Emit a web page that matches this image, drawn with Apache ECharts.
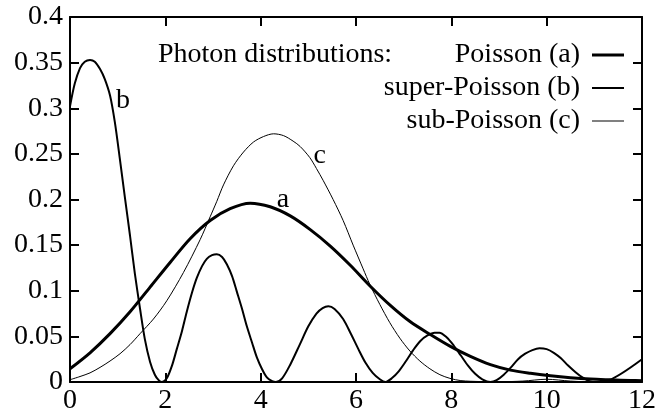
<!DOCTYPE html>
<html>
<head>
<meta charset="utf-8">
<script src="https://cdn.jsdelivr.net/npm/echarts@6/dist/echarts.min.js"></script>
<style>
html,body{margin:0;padding:0;background:#fff;}
#chart{width:659px;height:415px;}
</style>
</head>
<body>
<div id="chart"></div>
<script>
// Poisson (a)
var aX = [0, 0.42, 0.84, 1.26, 1.68, 2.10, 2.52, 2.94, 3.36, 3.78, 4.20, 4.62, 5.04, 5.46, 5.88, 6.30, 6.72, 7.14, 7.56, 7.98, 8.40, 8.82, 9.24, 9.66, 10.08, 10.50, 10.92, 11.34, 11.76, 12];
var aY = [0.0145, 0.032, 0.053, 0.077, 0.104, 0.131, 0.157, 0.177, 0.190, 0.196, 0.192, 0.182, 0.167, 0.149, 0.128, 0.105, 0.084, 0.066, 0.052, 0.039, 0.028, 0.019, 0.013, 0.0095, 0.0068, 0.0047, 0.0032, 0.0024, 0.0017, 0.0014];
// super-Poisson (b)
var bX = [0, 0.1, 0.21, 0.31, 0.42, 0.52, 0.63, 0.73, 0.84, 0.94, 1.05, 1.15, 1.26, 1.36, 1.47, 1.57, 1.68, 1.78, 1.86, 1.93,
          2.03, 2.14, 2.24, 2.35, 2.45, 2.56, 2.66, 2.77, 2.87, 2.98, 3.08, 3.19, 3.29, 3.4, 3.5, 3.61, 3.71, 3.82, 3.92, 4.03, 4.13, 4.24, 4.32,
          4.45, 4.62, 4.82, 5.0, 5.17, 5.3, 5.42, 5.55, 5.73, 5.9, 6.05, 6.2, 6.35, 6.5, 6.62,
          6.75, 6.9, 7.05, 7.2, 7.35, 7.5, 7.65, 7.75, 7.9, 8.05, 8.2, 8.35, 8.5, 8.65, 8.82,
          8.95, 9.1, 9.25, 9.4, 9.55, 9.7, 9.85, 10.0, 10.15, 10.3, 10.45, 10.6, 10.75, 10.9, 11.05, 11.26, 12];
var bY = [0.302, 0.327, 0.344, 0.351, 0.353, 0.351, 0.343, 0.332, 0.314, 0.285, 0.243, 0.203, 0.160, 0.119, 0.080, 0.047, 0.022, 0.008, 0.002, 0,
          0.004, 0.018, 0.036, 0.056, 0.077, 0.098, 0.114, 0.127, 0.135, 0.139, 0.140, 0.137, 0.129, 0.116, 0.099, 0.080, 0.061, 0.043, 0.027, 0.014, 0.005, 0.001, 0,
          0.004, 0.019, 0.041, 0.061, 0.075, 0.081, 0.083, 0.080, 0.069, 0.052, 0.036, 0.021, 0.010, 0.003, 0,
          0.004, 0.012, 0.023, 0.035, 0.045, 0.051, 0.054, 0.054, 0.049, 0.040, 0.029, 0.018, 0.009, 0.003, 0,
          0.002, 0.008, 0.016, 0.025, 0.031, 0.035, 0.037, 0.036, 0.032, 0.026, 0.018, 0.011, 0.005, 0.001, 0, 0.001, 0.025];
// sub-Poisson (c)
var cX = [0, 0.21, 0.42, 0.63, 0.84, 1.05, 1.26, 1.47, 1.75, 2.03, 2.38, 2.73, 2.94, 3.08, 3.22, 3.43, 3.64, 3.85, 4.06, 4.27, 4.48, 4.68, 4.83, 5.03, 5.17, 5.31, 5.52, 5.73, 5.94, 6.15, 6.29, 6.5, 6.71, 6.92, 7.13, 7.34, 7.55, 7.76, 7.97, 8.2, 8.6, 9.0, 9.5, 10.0, 10.5, 11.0, 12];
var cY = [0.0025, 0.006, 0.010, 0.016, 0.023, 0.031, 0.041, 0.053, 0.069, 0.089, 0.120, 0.156, 0.181, 0.198, 0.216, 0.237, 0.252, 0.263, 0.269, 0.272, 0.270, 0.264, 0.258, 0.246, 0.234, 0.221, 0.200, 0.177, 0.150, 0.124, 0.107, 0.085, 0.065, 0.048, 0.034, 0.023, 0.0145, 0.008, 0.004, 0.0015, 0.0005, 0.0003, 0.001, 0.003, 0.001, 0, 0];

var seriesNames = ['Poisson (a)', 'super-Poisson (b)', 'sub-Poisson (c)'];
var curveLabels = ['a', 'b', 'c'];
var labelPos = [[4.47, 0.2], [1.11, 0.308], [5.24, 0.248]];
var legendTitle = 'Photon distributions:';

var FONT = '"Liberation Serif", "DejaVu Serif", serif';
var FS = 28;

function pairs(xs, ys) { return xs.map(function (x, i) { return [x, ys[i]]; }); }

var widths = [3, 2, 1];
var datas = [pairs(aX, aY), pairs(bX, bY), pairs(cX, cY)];

var series = datas.map(function (d, i) {
  return {
    name: seriesNames[i],
    type: 'line',
    data: d,
    smooth: 0.3,
    showSymbol: false,
    symbol: 'none',
    lineStyle: { color: '#000', width: widths[i] },
    itemStyle: { color: '#000' },
    animation: false,
    z: 3,
    markPoint: {
      symbol: 'circle',
      symbolSize: 0,
      animation: false,
      label: {
        show: true,
        formatter: curveLabels[i],
        color: '#000',
        fontFamily: FONT,
        fontSize: FS,
        position: 'inside'
      },
      data: [{ coord: labelPos[i] }]
    }
  };
});

function axis(extra) {
  var base = {
    type: 'value',
    axisLine: { show: true, onZero: false, lineStyle: { color: '#000', width: 2 } },
    axisTick: { show: true, inside: true, length: 9, lineStyle: { color: '#000', width: 2 } },
    splitLine: { show: false }
  };
  return Object.assign(base, extra);
}

var chart = echarts.init(document.getElementById('chart'), null, { renderer: 'canvas' });
chart.setOption({
  backgroundColor: '#fff',
  animation: false,
  grid: { left: 70, right: 17, top: 17, bottom: 30, containLabel: false },
  title: {
    text: legendTitle,
    left: 153,
    top: 36,
    textStyle: { fontFamily: FONT, fontSize: FS, fontWeight: 'normal', color: '#000' }
  },
  legend: {
    orient: 'vertical',
    right: 30,
    top: 36,
    align: 'right',
    itemWidth: 32,
    itemHeight: 14,
    itemGap: 5,
    data: seriesNames.map(function (n, i) {
      return { name: n, icon: 'path://M0,0 L32,0 L32,' + widths[i] + ' L0,' + widths[i] + ' Z', itemStyle: { color: '#000' } };
    }),
    textStyle: { fontFamily: FONT, fontSize: FS, color: '#000', padding: [0, 7, 0, 0] },
    selectedMode: false
  },
  xAxis: [
    axis({
      position: 'bottom', min: 0, max: 12, interval: 2,
      axisLabel: { show: true, color: '#000', fontFamily: FONT, fontSize: FS, margin: 5 }
    }),
    axis({
      position: 'top', min: 0, max: 12, interval: 2,
      axisLabel: { show: false }
    })
  ],
  yAxis: [
    axis({
      position: 'left', min: 0, max: 0.4, interval: 0.05,
      axisLabel: { show: true, color: '#000', fontFamily: FONT, fontSize: FS, margin: 7 }
    }),
    axis({
      position: 'right', min: 0, max: 0.4, interval: 0.05,
      axisLabel: { show: false }
    })
  ],
  series: series
});
</script>
</body>
</html>
